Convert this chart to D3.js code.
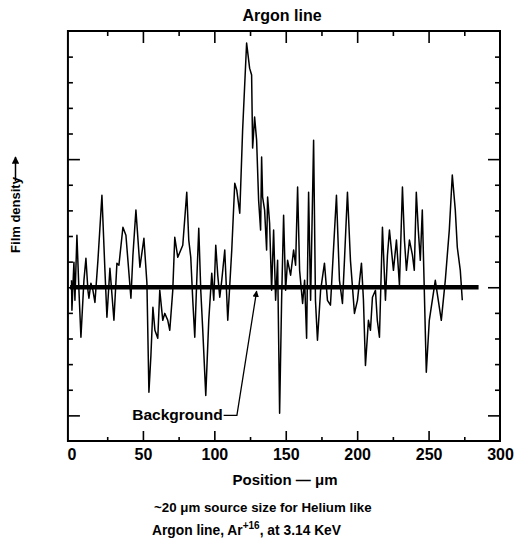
<!DOCTYPE html>
<html>
<head>
<meta charset="utf-8">
<script src="https://cdn.jsdelivr.net/npm/d3@7/dist/d3.min.js"></script>
<style>
  body { margin: 0; background: #fff; }
  text { font-family: "Liberation Sans", Arial, sans-serif; font-weight: bold; fill: #000; }
</style>
</head>
<body>
<div class="canva"></div>
<script>
// trace: position (um) and film density (tick units above background)
const positions = [0, 0.3, 1.7, 2.4, 3.8, 5.2, 6.6, 8.7, 10.1, 11.5, 12.2, 13.6, 15.0, 16.4, 18.5, 21.3, 23.4, 24.8, 26.9, 29.7,
  31.8, 33.2, 36.0, 38.1, 39.5, 41.6, 43.0, 45.1, 47.9, 50.7, 52.8, 54.2, 55.6, 57.0, 58.4, 60.4, 61.8, 63.9, 65.3, 67.4,
  68.8, 70.9, 72.3, 74.4, 77.9, 80.7, 82.1, 83.5, 84.9, 86.3, 87.7, 89.1, 90.5, 91.9, 94.0, 96.1, 98.2, 99.6, 101.0, 102.4,
  103.8, 105.2, 107.3, 109.4, 112.2, 114.3, 115.7, 117.8, 119.8, 122.6, 124.7, 126.1, 126.8, 128.2, 129.6, 131.0, 132.4, 133.1, 133.8, 135.2,
  136.6, 137.3, 138.7, 140.1, 141.5, 142.9, 144.3, 145.7, 147.1, 148.5, 149.9, 151.3, 153.4, 155.5, 156.9, 158.3, 159.7, 161.8, 163.2, 164.6,
  166.0, 167.4, 169.5, 170.8, 172.2, 174.4, 177.1, 179.2, 181.3, 183.4, 185.5, 187.6, 189.7, 191.1, 193.2, 195.3, 198.1, 200.2, 203.0, 204.4,
  205.8, 207.9, 209.3, 210.7, 212.8, 214.1, 215.6, 217.7, 219.8, 221.2, 222.6, 224.0, 225.4, 227.5, 229.6, 231.7, 233.1, 234.5, 236.6, 238.7,
  240.0, 241.4, 242.8, 244.2, 245.6, 247.0, 248.4, 250.5, 252.6, 254.7, 256.8, 258.9, 261.7, 264.5, 266.6, 268.7, 270.1, 272.2, 273.6];

const densities = [0.27, -0.9, 0.98, -0.51, 2.03, -0.12, -1.95, 0.27, 1.13, -0.12, -0.43, 0.16, -0.12, -0.59, 1.05, 3.59, 0.66, -1.17, 0.74, -1.29,
  0.94, 0.86, 2.34, 2.03, 1.05, -0.43, 1.25, 3.01, 0.78, 1.91, 0.16, -4.10, -2.66, -0.78, -1.68, -1.99, -0.12, -1.29, -1.02, -1.29,
  -1.68, -0.12, 1.95, 1.17, 1.64, 3.71, 1.84, 1.17, -0.51, -1.95, 0.27, 2.30, -0.12, -1.68, -4.22, -1.29, 0.55, -0.51, 1.64, 0.47,
  -0.39, 0.27, 1.45, -1.29, 1.45, 4.06, 3.79, 2.89, 6.13, 9.53, 8.55, 8.28, 5.43, 6.64, 5.74, 3.40, 2.23, 5.08, 3.52, 3.01,
  1.45, 3.52, 2.50, -0.12, 2.23, -0.51, 1.05, -4.92, -0.51, 2.81, -0.12, 1.05, 0.47, 1.45, 0.86, 3.91, 0.66, -0.63, 0.27, -1.99,
  3.71, -0.51, 5.74, -0.51, -2.07, -0.12, 0.94, -0.51, -0.70, 1.45, 3.59, 0.27, -0.63, 1.05, 3.71, 1.05, -1.02, -0.51, 0.94, -0.51,
  -3.05, -1.29, -1.68, -0.39, -0.12, -1.29, -1.95, 2.34, -0.51, 1.25, 2.23, 1.45, 0.66, 1.84, 0.08, 3.91, 1.84, 0.66, 1.84, 1.25,
  0.66, 3.71, 2.23, 1.05, 3.01, -0.12, -3.32, -1.29, -0.51, 0.27, -0.51, -1.29, 0.27, 2.23, 4.38, 3.01, 1.56, 0.66, -0.51];

const xLabels = [0, 50, 100, 150, 200, 250, 300];
const xMinor = [25, 75, 125, 175, 225, 275];
const xMajorInner = [50, 100, 150, 200, 250];
const yMinor = [-4, -3, -2, -1, 1, 2, 3, 4, 6, 7, 8, 9];
const yMajor = [-5, 0, 5];
const background = [-1, 285]; // extent of the thick background line (um)

const width = 517, height = 551;

const svg = d3.select('.canva').append('svg')
  .attr('width', width)
  .attr('height', height);

const x = d3.scaleLinear().domain([0, 300]).range([71.5, 500]);
const y = d3.scaleLinear().domain([-6, 10]).range([441, 31]);
const frameLeft = x(-2.5), frameRight = x(300), frameTop = y(10), frameBottom = y(-6);

// tick marks all point into the frame
const tickGroup = (axis, tr) => {
  const g = svg.append('g').attr('transform', tr).call(axis);
  g.select('.domain').remove();
  g.selectAll('.tick line').attr('stroke', '#000').attr('stroke-width', 1.6);
  return g;
};

// bottom: labels + long ticks at 50s, short ticks at 25s
const bottomMajor = tickGroup(
  d3.axisBottom(x).tickValues(xLabels).tickSizeInner(-10).tickSizeOuter(0).tickPadding(8).tickFormat(d3.format('d')),
  `translate(0,${frameBottom})`);
bottomMajor.selectAll('.tick').filter(d => d === 0 || d === 300).select('line').remove();
bottomMajor.selectAll('.tick text')
  .attr('y', 8)
  .style('font-size', '16px')
  .style('font-family', '"Liberation Sans", Arial, sans-serif')
  .style('font-weight', 'bold');
tickGroup(d3.axisBottom(x).tickValues(xMinor).tickSizeInner(-4).tickSizeOuter(0).tickFormat(''),
  `translate(0,${frameBottom})`);

// top
tickGroup(d3.axisTop(x).tickValues(xMajorInner).tickSizeInner(-12).tickSizeOuter(0).tickFormat(''),
  `translate(0,${frameTop})`);
tickGroup(d3.axisTop(x).tickValues(xMinor).tickSizeInner(-5).tickSizeOuter(0).tickFormat(''),
  `translate(0,${frameTop})`);

// left and right
tickGroup(d3.axisLeft(y).tickValues(yMajor).tickSizeInner(-12).tickSizeOuter(0).tickFormat(''),
  `translate(${frameLeft},0)`);
tickGroup(d3.axisLeft(y).tickValues(yMinor).tickSizeInner(-5).tickSizeOuter(0).tickFormat(''),
  `translate(${frameLeft},0)`);
tickGroup(d3.axisRight(y).tickValues(yMajor).tickSizeInner(-12).tickSizeOuter(0).tickFormat(''),
  `translate(${frameRight},0)`);
tickGroup(d3.axisRight(y).tickValues(yMinor).tickSizeInner(-5).tickSizeOuter(0).tickFormat(''),
  `translate(${frameRight},0)`);

// frame
svg.append('rect')
  .attr('x', frameLeft).attr('y', frameTop)
  .attr('width', frameRight - frameLeft).attr('height', frameBottom - frameTop)
  .attr('fill', 'none').attr('stroke', '#000').attr('stroke-width', 2);

// background level
svg.append('line')
  .attr('x1', x(background[0])).attr('x2', x(background[1]))
  .attr('y1', y(0)).attr('y2', y(0))
  .attr('stroke', '#000').attr('stroke-width', 4.5);

// the trace
const line = d3.line()
  .x(d => x(d[0]))
  .y(d => y(d[1]));

svg.append('path')
  .datum(d3.zip(positions, densities))
  .attr('d', line)
  .attr('fill', 'none')
  .attr('stroke', '#000')
  .attr('stroke-width', 1.5)
  .attr('stroke-linejoin', 'round');

// Background label and arrow
svg.append('defs').append('marker')
  .attr('id', 'head')
  .attr('viewBox', '0 0 10 10')
  .attr('refX', 9).attr('refY', 5)
  .attr('markerWidth', 5).attr('markerHeight', 5)
  .attr('orient', 'auto')
  .append('path').attr('d', 'M0,0L10,5L0,10z').attr('fill', '#000');

svg.append('text')
  .attr('x', x(42.5)).attr('y', y(-5) + 5)
  .style('font-size', '15.5px')
  .text('Background');

svg.append('path')
  .attr('d', d3.line()([[x(106.5), y(-5)], [x(115.8), y(-5)], [x(129.6), y(-0.15)]]))
  .attr('fill', 'none').attr('stroke', '#000').attr('stroke-width', 1.3)
  .attr('marker-end', 'url(#head)');

// titles
svg.append('text')
  .attr('x', 282).attr('y', 21)
  .attr('text-anchor', 'middle')
  .style('font-size', '16px')
  .text('Argon line');

svg.append('text')
  .attr('x', 285).attr('y', 485)
  .attr('text-anchor', 'middle')
  .style('font-size', '15px')
  .text('Position \u2014 \u03bcm');

svg.append('text')
  .attr('x', 154).attr('y', 512)
  .style('font-size', '13.3px')
  .text('~20 \u03bcm source size for Helium like');

const sub = svg.append('text')
  .attr('x', 152).attr('y', 535)
  .style('font-size', '13.8px');
sub.append('tspan').text('Argon line, Ar');
sub.append('tspan').attr('dy', -6).style('font-size', '10px').text('+16');
sub.append('tspan').attr('dy', 6).text(', at 3.14 KeV');

// y label with upward arrow
svg.append('text')
  .attr('transform', 'translate(20,215) rotate(-90)')
  .attr('text-anchor', 'middle')
  .style('font-size', '13px')
  .text('Film density');

svg.append('line')
  .attr('x1', 15.5).attr('x2', 15.5)
  .attr('y1', 181).attr('y2', 157)
  .attr('stroke', '#000').attr('stroke-width', 1.5)
  .attr('marker-end', 'url(#head)');
</script>
</body>
</html>
